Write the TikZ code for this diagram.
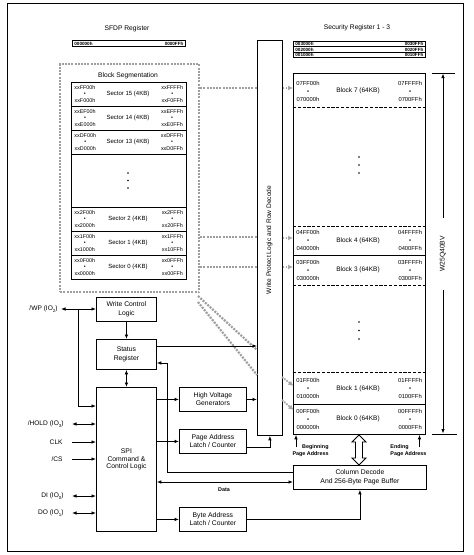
\documentclass[tikz,border=0pt]{standalone}
\usepackage{fontspec}
\setmainfont{Liberation Sans}
\usetikzlibrary{arrows.meta,calc}
\newcommand\fsz[2]{\fontsize{#1}{#2}\selectfont}
\newcommand\sbs[1]{\raisebox{-0.45ex}{\fontsize{4.4}{4.4}\selectfont #1}}
% memory block: name, mid y, TL, BL, TR, BR, label
\newcommand\mblk[7]{%
  \node[madr, anchor=west] (#1l) at (296,#2) {#3\\\textbullet\\#4};
  \node[madr, anchor=east] (#1r) at (422.5,#2) {#5\\\textbullet\\#6};
  \node[mlab] (#1c) at (358,#2) {#7};}
% sector row: name, mid y, TL, BL, TR, BR, label
\newcommand\sect[7]{%
  \node[sadr, anchor=west] (#1l) at (74,#2) {#3\\\textbullet\\#4};
  \node[sadr, anchor=east] (#1r) at (183.5,#2) {#5\\\textbullet\\#6};
  \node[slab] (#1c) at (128,#2) {#7};}
\begin{document}
\begin{tikzpicture}[x=1pt,y=-1pt,line width=0.85pt,
  box/.style={draw,fill=white,inner sep=0pt,align=center,font=\fsz{6.8}{8.5}},
  ttl/.style={font=\fsz{6.7}{8},inner sep=0pt},
  madr/.style={font=\fsz{5.8}{8},align=center,inner sep=0pt},
  mlab/.style={font=\fsz{6.5}{8},inner sep=0pt},
  sadr/.style={font=\fsz{5.4}{6.6},align=center,inner sep=0pt},
  slab/.style={font=\fsz{6}{7},inner sep=0pt},
  reg/.style={font=\bfseries\fsz{4.6}{5},inner sep=0pt},
  pinl/.style={font=\fsz{6.6}{8},inner sep=0pt,anchor=east},
  bl/.style={font=\bfseries\fsz{5.4}{7},inner sep=0pt},
  arr/.style={-{Latex[length=4.5pt,width=3.6pt]}},
  darr/.style={{Latex[length=4.5pt,width=3.6pt]}-{Latex[length=4.5pt,width=3.6pt]}},
  gdot/.style={draw=gray!75,line width=2.2pt,dash pattern=on 2pt off 1.2pt},
  garr/.style={draw=gray!70,fill=gray!70,line width=1.8pt,dash pattern=on 1.6pt off 1.2pt,-{Latex[length=5pt,width=5pt]}},
  dsh/.style={dash pattern=on 3.2pt off 1.6pt}]
\useasboundingbox (0,0) rectangle (474,555);
\node[draw,anchor=north west,minimum width=456pt,minimum height=548pt,inner sep=0pt] (frame) at (7,3) {};

% SFDP register
\node[ttl] (sfdpt) at (127,29) {SFDP Register};
\node[draw,anchor=north west,minimum width=113pt,minimum height=6pt,inner sep=0pt] (sfdp) at (72,40) {};
\node[reg,anchor=west] (sfdpl) at ([xshift=2pt]sfdp.west) {000000h};
\node[reg,anchor=east] (sfdpr) at ([xshift=-2pt]sfdp.east) {0000FFh};

% Security registers
\node[ttl] (sect) at (357,28) {Security Register 1 - 3};
\foreach \i/\a/\b in {0/003000h/0030FFh,1/002000h/0020FFh,2/001000h/0010FFh}{
  \node[draw,anchor=north west,minimum width=132pt,minimum height=5.3pt,inner sep=0pt] (srg\i) at (293,{41+5.3*\i}) {};
  \node[reg,anchor=west] (srgl\i) at ([xshift=2pt]srg\i.west) {\a};
  \node[reg,anchor=east] (srgr\i) at ([xshift=-2pt]srg\i.east) {\b};
}

% Block segmentation
\node[gdot,anchor=north west,minimum width=139pt,minimum height=228pt,inner sep=0pt] (bseg) at (59,63) {};
\node[ttl] (bsegt) at (128,76) {Block Segmentation};
\node[draw,fill=white,anchor=north west,minimum width=115pt,minimum height=197pt,inner sep=0pt] (stab) at (71,82) {};
\foreach \y in {106,130,154,207,231,255} \draw (71,\y) -- (186,\y);
\sect{s15}{94}{xxFF00h}{xxF000h}{xxFFFFh}{xxF0FFh}{Sector 15 (4KB)}
\sect{s14}{118}{xxEF00h}{xxE000h}{xxEFFFh}{xxE0FFh}{Sector 14 (4KB)}
\sect{s13}{142}{xxDF00h}{xxD000h}{xxDFFFh}{xxD0FFh}{Sector 13 (4KB)}
\sect{s2}{219}{xx2F00h}{xx2000h}{xx2FFFh}{xx20FFh}{Sector 2 (4KB)}
\sect{s1}{243}{xx1F00h}{xx1000h}{xx1FFFh}{xx10FFh}{Sector 1 (4KB)}
\sect{s0}{267}{xx0F00h}{xx0000h}{xx0FFFh}{xx00FFh}{Sector 0 (4KB)}
\foreach \y in {173,180.5,188} \fill (128,\y) circle (0.9pt);

% Write protect logic
\node[box,anchor=north west,minimum width=25pt,minimum height=395pt] (wp) at (257,40) {};
\node[font=\fsz{6.6}{8},rotate=90,inner sep=0pt] (wpt) at (269.5,240) {Write Protect Logic and Row Decode};

% Memory array
\node[draw,anchor=north west,minimum width=132pt,minimum height=361pt,inner sep=0pt] (mem) at (293,73) {};
\foreach \y in {107,226,285,372} \draw[dsh] (293,\y) -- (425,\y);
\foreach \y in {255,404} \draw (293,\y) -- (425,\y);
\mblk{b7}{91}{07FF00h}{070000h}{07FFFFh}{0700FFh}{Block 7 (64KB)}
\mblk{b4}{240.5}{04FF00h}{040000h}{04FFFFh}{0400FFh}{Block 4 (64KB)}
\mblk{b3}{270}{03FF00h}{030000h}{03FFFFh}{0300FFh}{Block 3 (64KB)}
\mblk{b1}{388.5}{01FF00h}{010000h}{01FFFFh}{0100FFh}{Block 1 (64KB)}
\mblk{b0}{419}{00FF00h}{000000h}{00FFFFh}{0000FFh}{Block 0 (64KB)}
\foreach \y in {157,165,173,322,330.5,339} \fill (359,\y) circle (0.9pt);

% dotted connectors
\draw[gdot] (bseg.east |- 0,88) -- (wp.west |- 0,88);
\draw[gdot] (bseg.east |- 0,237) -- (wp.west |- 0,237);
\draw[gdot] (bseg.east |- 0,267) -- (wp.west |- 0,267);
\draw[garr] (wp.east |- 0,88) -- (mem.west |- 0,88);
\draw[garr] (wp.east |- 0,238) -- (mem.west |- 0,238);
\draw[garr] (wp.east |- 0,267) -- (mem.west |- 0,267);
\coordinate (dg1a) at (198,296); \coordinate (dg1b) at (257,350);
\coordinate (dg2a) at (198,302); \coordinate (dg2b) at (257,375);
\draw[gdot] (dg1a) -- (dg1b);
\draw[gdot] (dg2a) -- (dg2b);
\coordinate (dg3a) at (282,377); \coordinate (dg3b) at (293.5,386);
\coordinate (dg4a) at (282,400); \coordinate (dg4b) at (293.5,410);
\draw[garr] (dg3a) -- (dg3b);
\draw[garr] (dg4a) -- (dg4b);

% W25Q40BV dimension
\draw (432,73) -- (455,73);
\draw (432,434) -- (457,434);
\node[font=\fsz{6.8}{8},rotate=90,inner sep=0pt] (dim) at (443,254) {W25Q40BV};
\coordinate (dgt) at (443,218); \coordinate (dtop) at (443,73.5);
\coordinate (dgb) at (443,290); \coordinate (dbot) at (443,433.5);
\draw[arr] (dgt) -- (dtop);
\draw[arr] (dgb) -- (dbot);

% page address labels
\node[bl,align=right,anchor=east] (beg) at (329,450.5) {Beginning\\Page Address};
\coordinate (begp) at (296,447);
\draw[arr] (begp) -- (begp |- mem.south);
\node[bl,align=left,anchor=west] (endl) at (390,450.5) {Ending\\Page Address};
\coordinate (endp) at (419.5,447);
\draw[arr] (endp) -- (endp |- mem.south);

% logic boxes
\node[box,anchor=north west,minimum width=60pt,minimum height=24pt] (wcl) at (96,297) {Write Control\\Logic};
\node[box,anchor=north west,minimum width=60pt,minimum height=30pt] (sr) at (96,339) {Status\\Register};
\node[box,anchor=north west,minimum width=60pt,minimum height=144pt,font=\fsz{6.8}{7.8}] (spi) at (96,387) {SPI\\Command \&\\Control Logic};
\node[box,anchor=north west,minimum width=67pt,minimum height=24pt,font=\fsz{6.8}{8}] (hv) at (179,387) {High Voltage\\Generators};
\node[box,anchor=north west,minimum width=67pt,minimum height=24pt,font=\fsz{6.8}{8}] (pal) at (179,429) {Page Address\\Latch / Counter};
\node[box,anchor=north west,minimum width=67pt,minimum height=24pt,font=\fsz{6.8}{8}] (bal) at (179,507) {Byte Address\\Latch / Counter};
\node[box,anchor=north west,minimum width=133pt,minimum height=24pt,font=\fsz{6.8}{9}] (cd) at (293,465) {Column Decode\\And 256-Byte Page Buffer};

% hollow double arrow
\draw[fill=white,line width=0.8pt] (359,435) -- (366,442) -- (362.5,442) -- (362.5,458) -- (366,458) -- (359,465) -- (352,458) -- (355.5,458) -- (355.5,442) -- (352,442) -- cycle;

% internal connections
\draw[arr] (wcl.south) -- (sr.north);
\draw[darr] (sr.south) -- (spi.north);
\draw[arr] (sr.east |- 0,346) -- (wp.west |- 0,346);
\draw[arr] (cd.west |- 0,472) -| (167,363) -- (sr.east |- 0,363);
\draw[arr] (spi.east |- hv.west) -- (hv.west);
\draw[arr] (hv.east) -- (wp.west |- hv.east);
\draw[arr] (spi.east |- pal.west) -- (pal.west);
\draw[arr] (pal.east |- 0,447) -| (wp.south);
\draw[darr] (spi.east |- 0,482) -- (cd.west |- 0,482);
\node[bl] (data) at (224,490) {Data};
\draw[arr] (spi.east |- bal.west) -- (bal.west);
\draw[arr] (bal.east) -| (cd.south);

% pins
\node[pinl] (pwp) at (58,309) {/WP (IO\sbs{2})};
\coordinate (wpa) at (61,309);
\draw[darr] (wpa) -- (wcl.west |- wpa);
\coordinate (wpj) at (78,309);
\draw[arr] (wpj) |- (spi.west |- 0,406);
\node[pinl] (phold) at (64,424) {/HOLD (IO\sbs{3})};
\coordinate (holda) at (72,424);
\draw[darr] (holda) -- (spi.west |- holda);
\node[pinl] (pclk) at (63,442) {CLK};
\coordinate (clka) at (72,442);
\draw[arr] (clka) -- (spi.west |- clka);
\node[pinl] (pcs) at (63,459) {/CS};
\coordinate (csa) at (72,459);
\draw[arr] (csa) -- (spi.west |- csa);
\node[pinl] (pdi) at (64,496) {DI (IO\sbs{0})};
\coordinate (dia) at (72,496);
\draw[darr] (dia) -- (spi.west |- dia);
\node[pinl] (pdo) at (64,513) {DO (IO\sbs{1})};
\coordinate (doa) at (72,513);
\draw[darr] (doa) -- (spi.west |- doa);
\end{tikzpicture}
\end{document}
